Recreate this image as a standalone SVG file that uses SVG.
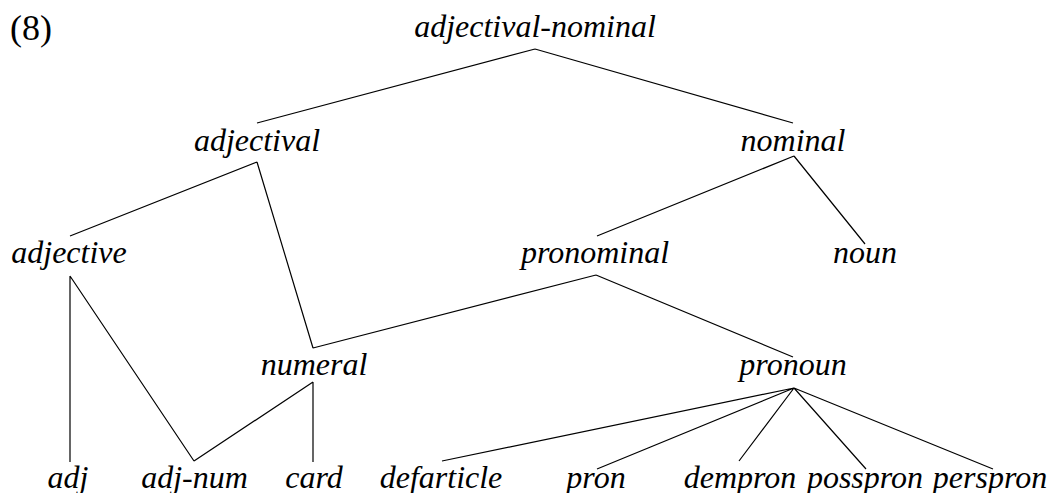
<svg xmlns="http://www.w3.org/2000/svg" width="1060" height="493" viewBox="0 0 1060 493" font-family="Liberation Serif, Times New Roman, serif">
<defs>
<style>
.n { font-style: italic; font-size: 32px; }
.lbl { font-size: 36px; }
</style>
</defs>
<rect width="1060" height="493" fill="#fff"/>
<text class="lbl" x="10" y="40" font-family="Liberation Serif">(8)</text>
<g id="connectors" stroke="#000" stroke-width="1.2">
<path d="M535 49L257 123M535 49L793 123M257 162L70 236M257 162L313 348M794 156L597 236M794 156L865 244M596 275L793 357M596 275L313 348M70 276L70 462M70 276L194 461M313 382L194 461M313 382L313 462M794 388L442 461M794 388L597 469M794 388L739 461M794 388L866 469M794 388L993 469" fill="none"/>
</g>
<g text-anchor="middle">
<g id="n-adjectival-nominal"><text class="n" x="535" y="37" font-family="Liberation Serif">adjectival-nominal</text></g>
<g id="n-adjectival"><text class="n" x="257" y="151" font-family="Liberation Serif">adjectival</text></g>
<g id="n-nominal"><text class="n" x="793" y="151" font-family="Liberation Serif">nominal</text></g>
<g id="n-adjective"><text class="n" x="69" y="263" font-family="Liberation Serif">adjective</text></g>
<g id="n-pronominal"><text class="n" x="595" y="263" font-family="Liberation Serif">pronominal</text></g>
<g id="n-noun"><text class="n" x="865" y="263" font-family="Liberation Serif">noun</text></g>
<g id="n-numeral"><text class="n" x="314" y="375" font-family="Liberation Serif">numeral</text></g>
<g id="n-pronoun"><text class="n" x="793" y="375" font-family="Liberation Serif">pronoun</text></g>
<g id="n-adj"><text class="n" x="68" y="488" font-family="Liberation Serif">adj</text></g>
<g id="n-adj-num"><text class="n" x="194.5" y="488" font-family="Liberation Serif">adj-num</text></g>
<g id="n-card"><text class="n" x="314" y="488" font-family="Liberation Serif">card</text></g>
<g id="n-defarticle"><text class="n" x="441" y="488" font-family="Liberation Serif">defarticle</text></g>
<g id="n-pron"><text class="n" x="596" y="488" font-family="Liberation Serif">pron</text></g>
<g id="n-dempron"><text class="n" x="740" y="488" font-family="Liberation Serif">dempron</text></g>
<g id="n-posspron"><text class="n" x="865" y="488" font-family="Liberation Serif">posspron</text></g>
<g id="n-perspron"><text class="n" x="990" y="488" font-family="Liberation Serif">perspron</text></g>
</g>
</svg>
